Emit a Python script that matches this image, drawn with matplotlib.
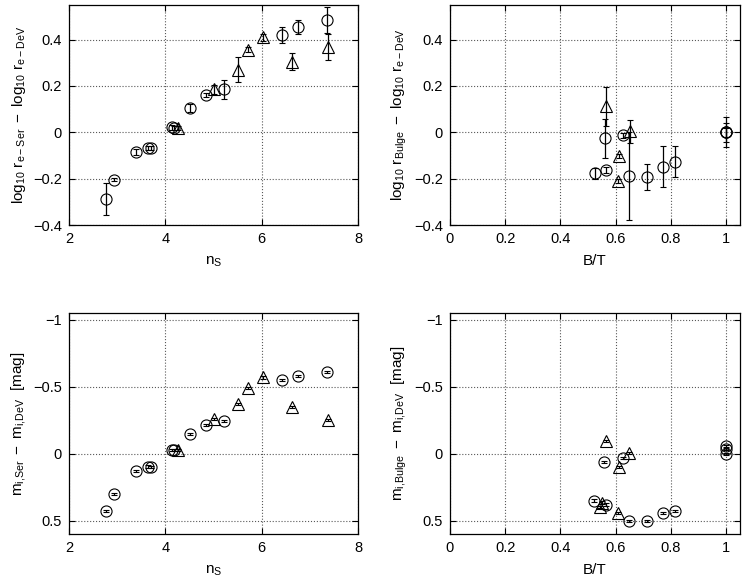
import numpy as np
import matplotlib
matplotlib.use('Agg')
import matplotlib.pyplot as plt

plt.rcParams['font.family'] = ['Liberation Sans', 'DejaVu Sans']
plt.rcParams['mathtext.fontset'] = 'custom'
plt.rcParams['mathtext.rm'] = 'Liberation Sans'
plt.rcParams['mathtext.it'] = 'Liberation Sans'
plt.rcParams['font.size'] = 10

# Sersic index sample (circles / triangles)
ns_circ = [2.77, 2.93, 3.39, 3.64, 3.70, 4.13, 4.17, 4.51, 4.84, 5.21, 6.43, 6.75, 7.35]
dr_circ = [-0.288, -0.205, -0.085, -0.068, -0.068, 0.022, 0.020, 0.105, 0.160, 0.185, 0.420, 0.455, 0.485]
dr_circ_err = [0.07, 0.006, 0.012, 0.010, 0.010, 0.010, 0.008, 0.018, 0.008, 0.040, 0.036, 0.030, 0.055]
dm_circ = [0.43, 0.30, 0.127, 0.096, 0.10, -0.03, -0.028, -0.15, -0.215, -0.245, -0.55, -0.58, -0.61]

ns_tri = [4.26, 5.00, 5.50, 5.71, 6.02, 6.62, 7.37]
dr_tri = [0.020, 0.185, 0.270, 0.356, 0.410, 0.305, 0.370]
dr_tri_err = [0.008, 0.020, 0.055, 0.010, 0.015, 0.035, 0.056]
dm_tri = [-0.025, -0.26, -0.37, -0.49, -0.57, -0.35, -0.255]

# bulge/disc sample
bt_circ = [0.525, 0.562, 0.565, 0.627, 0.650, 0.714, 0.772, 0.816, 1.0, 1.0, 1.0]
drb_circ = [-0.177, -0.026, -0.163, -0.013, -0.190, -0.193, -0.148, -0.126, 0.0, 0.0, 0.0]
drb_circ_err = [0.023, 0.085, 0.012, 0.012, 0.190, 0.056, 0.088, 0.065, 0.065, 0.040, 0.020]
bt_tri = [0.565, 0.612, 0.609, 0.652]
drb_tri = [0.112, -0.103, -0.210, 0.005]
drb_tri_err = [0.085, 0.010, 0.010, 0.050]

btm_circ = [0.522, 0.558, 0.565, 0.627, 0.650, 0.714, 0.772, 0.816, 1.0, 1.0, 1.0]
dmb_circ = [0.35, 0.06, 0.38, 0.03, 0.505, 0.505, 0.445, 0.43, 0.0, -0.035, -0.055]
btm_tri = [0.565, 0.612, 0.650, 0.545, 0.550, 0.609]
dmb_tri = [-0.097, 0.097, -0.007, 0.40, 0.365, 0.445]

fig = plt.figure(figsize=(7.45, 5.81), dpi=100)
ax1 = fig.add_axes([0.0926, 0.6127, 0.388, 0.379])
ax2 = fig.add_axes([0.604, 0.6127, 0.389, 0.379])
ax3 = fig.add_axes([0.0926, 0.0809, 0.388, 0.380])
ax4 = fig.add_axes([0.604, 0.0809, 0.389, 0.380])

mk = dict(mfc='none', mec='k', color='k', linestyle='none', ms=8, mew=0.8,
          elinewidth=0.9, capsize=2, capthick=0.9)
lab = dict(fontsize=11, labelpad=6)
ylab = dict(fontsize=11, labelpad=4)


def style(ax):
    ax.grid(True, linestyle=':', color='0.35', linewidth=0.8)
    ax.tick_params(direction='in', top=True, right=True, length=4, labelsize=10.5, pad=5)
    for s in ax.spines.values():
        s.set_linewidth(0.9)


ax1.errorbar(ns_circ, dr_circ, yerr=dr_circ_err, marker='o', **mk)
ax1.errorbar(ns_tri, dr_tri, yerr=dr_tri_err, marker='^', **mk)
ax1.set_xlim(2, 8)
ax1.set_ylim(-0.4, 0.55)
ax1.set_xticks([2, 4, 6, 8])
ax1.set_yticks([-0.4, -0.2, 0, 0.2, 0.4])
ax1.set_yticklabels(['\u22120.4', '\u22120.2', '0', '0.2', '0.4'])
ax1.set_xlabel(r'$\mathrm{n_S}$', **lab)
ax1.set_ylabel(r'$\mathrm{log_{10}\ r_{e-Ser}\ -\ log_{10}\ r_{e-DeV}}$', **ylab)
style(ax1)

ax2.errorbar(bt_circ, drb_circ, yerr=drb_circ_err, marker='o', **mk)
ax2.errorbar(bt_tri, drb_tri, yerr=drb_tri_err, marker='^', **mk)
ax2.set_xlim(0, 1.05)
ax2.set_ylim(-0.4, 0.55)
ax2.set_xticks([0, 0.2, 0.4, 0.6, 0.8, 1])
ax2.set_xticklabels(['0', '0.2', '0.4', '0.6', '0.8', '1'])
ax2.set_yticks([-0.4, -0.2, 0, 0.2, 0.4])
ax2.set_yticklabels(['\u22120.4', '\u22120.2', '0', '0.2', '0.4'])
ax2.set_xlabel('B/T', **lab)
ax2.set_ylabel(r'$\mathrm{log_{10}\ r_{Bulge}\ -\ log_{10}\ r_{e-DeV}}$', **ylab)
style(ax2)

ax3.errorbar(ns_circ, dm_circ, yerr=0.008, marker='o', **mk)
ax3.errorbar(ns_tri, dm_tri, yerr=0.008, marker='^', **mk)
ax3.set_xlim(2, 8)
ax3.set_ylim(0.6, -1.05)
ax3.set_xticks([2, 4, 6, 8])
ax3.set_yticks([-1, -0.5, 0, 0.5])
ax3.set_yticklabels(['\u22121', '\u22120.5', '0', '0.5'])
ax3.set_xlabel(r'$\mathrm{n_S}$', **lab)
ax3.set_ylabel(r'$\mathrm{m_{i{,}Ser}\ -\ m_{i{,}DeV}\ \ [mag]}$', **ylab)
style(ax3)

ax4.errorbar(btm_circ, dmb_circ, yerr=0.008, marker='o', **mk)
ax4.errorbar(btm_tri, dmb_tri, yerr=0.008, marker='^', **mk)
ax4.set_xlim(0, 1.05)
ax4.set_ylim(0.6, -1.05)
ax4.set_xticks([0, 0.2, 0.4, 0.6, 0.8, 1])
ax4.set_xticklabels(['0', '0.2', '0.4', '0.6', '0.8', '1'])
ax4.set_yticks([-1, -0.5, 0, 0.5])
ax4.set_yticklabels(['\u22121', '\u22120.5', '0', '0.5'])
ax4.set_xlabel('B/T', **lab)
ax4.set_ylabel(r'$\mathrm{m_{i{,}Bulge}\ -\ m_{i{,}DeV}\ \ [mag]}$', **ylab)
style(ax4)

fig.savefig('out.png', dpi=100)
